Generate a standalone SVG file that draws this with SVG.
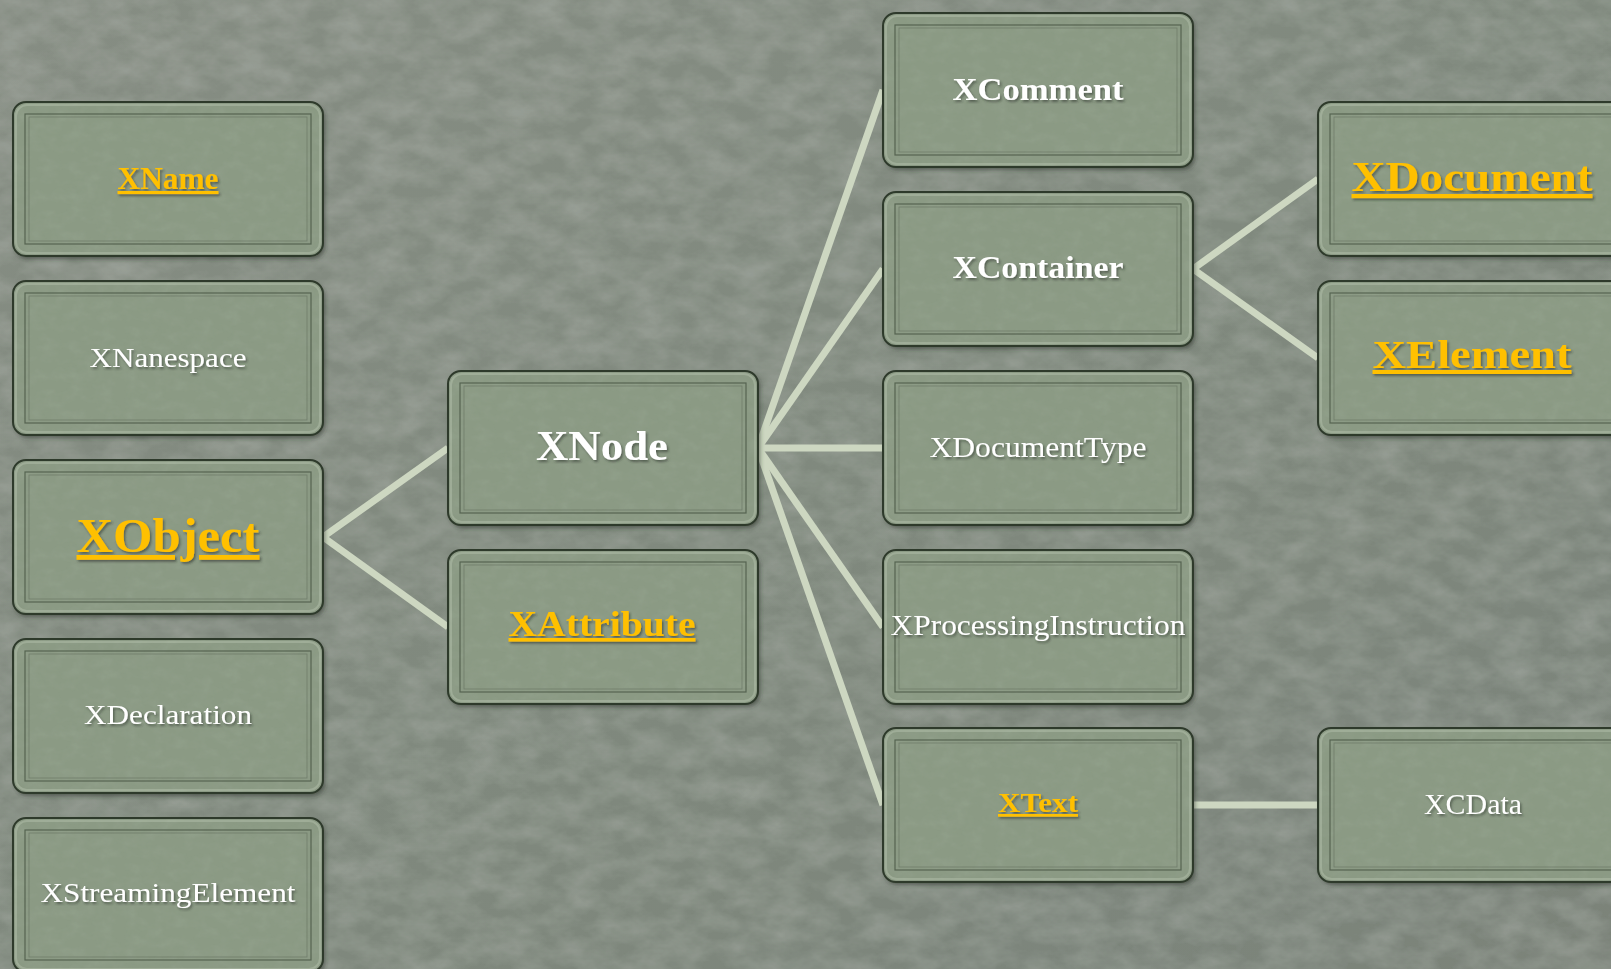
<svg xmlns="http://www.w3.org/2000/svg" xmlns:xlink="http://www.w3.org/1999/xlink" width="1611" height="969" viewBox="0 0 1611 969">
<style>
.t{font-family:"Liberation Serif","Times New Roman",serif;text-anchor:middle}
.w{fill:#ffffff}
.y{fill:#ffc000;text-decoration:underline}
.b{font-weight:bold}
.con line{stroke:#cdd7c1;stroke-width:7;stroke-linecap:butt}
</style>
<defs>
<linearGradient id="bg" x1="0" y1="0" x2="1" y2="1">
<stop offset="0" stop-color="#868d83"/>
<stop offset="0.5" stop-color="#80897e"/>
<stop offset="1" stop-color="#7b8379"/>
</linearGradient>
<filter id="bgtex" x="0" y="0" width="1" height="1">
<feTurbulence type="fractalNoise" baseFrequency="0.03 0.05" numOctaves="4" seed="7" result="n"/>
<feColorMatrix in="n" type="matrix" values="0 0 0 0 0.85  0 0 0 0 0.88  0 0 0 0 0.84  0.22 0 0 0 -0.06" result="d"/>
<feComposite in="d" in2="SourceGraphic" operator="in" result="dc"/>
<feMerge><feMergeNode in="SourceGraphic"/><feMergeNode in="dc"/></feMerge>
</filter>
<filter id="tex" x="0" y="0" width="1" height="1">
<feTurbulence type="fractalNoise" baseFrequency="0.07 0.1" numOctaves="3" seed="3" result="n"/>
<feColorMatrix in="n" type="matrix" values="0 0 0 0 0.32  0 0 0 0 0.4  0 0 0 0 0.3  0.7 0 0 0 -0.28" result="d"/>
<feComposite in="d" in2="SourceGraphic" operator="in" result="dc"/>
<feMerge><feMergeNode in="SourceGraphic"/><feMergeNode in="dc"/></feMerge>
</filter>
<filter id="sh" x="-5%" y="-5%" width="112%" height="120%">
<feGaussianBlur in="SourceAlpha" stdDeviation="2"/>
<feOffset dx="2" dy="3" result="b"/>
<feFlood flood-color="#2a3028" flood-opacity="0.55"/>
<feComposite in2="b" operator="in"/>
</filter>
<filter id="ts" x="-10%" y="-20%" width="120%" height="150%">
<feDropShadow dx="1.5" dy="2" stdDeviation="1" flood-color="#2b3228" flood-opacity="0.55"/>
</filter>
<g id="box">
<rect x="0" y="0" width="310" height="154" rx="13" fill="#000" filter="url(#sh)"/>
<rect x="0" y="0" width="310" height="154" rx="13" fill="#8b9a84" filter="url(#tex)"/>
<rect x="0" y="0" width="310" height="154" rx="13" fill="none" stroke="#2e3a2b" stroke-width="2"/>
<rect x="3" y="3" width="304" height="148" rx="11" fill="none" stroke="#c4cdbb" stroke-width="2" stroke-opacity="0.35"/>
<rect x="12" y="12" width="286" height="130" fill="none" stroke="#43503f" stroke-width="1.2" stroke-opacity="0.75"/>
<rect x="16" y="15" width="278" height="124" fill="none" stroke="#55624f" stroke-width="0.8" stroke-opacity="0.5"/>
</g>
</defs>
<rect width="1611" height="969" fill="url(#bg)" filter="url(#bgtex)"/>
<g id="connectors" class="con">
<line x1="323" y1="537" x2="448" y2="448"/>
<line x1="323" y1="537" x2="448" y2="627"/>
<line x1="758" y1="448" x2="883" y2="90"/>
<line x1="758" y1="448" x2="883" y2="269"/>
<line x1="758" y1="448" x2="883" y2="448"/>
<line x1="758" y1="448" x2="883" y2="627"/>
<line x1="758" y1="448" x2="883" y2="805"/>
<line x1="1193" y1="269" x2="1318" y2="179"/>
<line x1="1193" y1="269" x2="1318" y2="358"/>
<line x1="1193" y1="805" x2="1318" y2="805"/>
</g>
<g id="XName"><use xlink:href="#box" x="13" y="102"/><text class="t y b" x="168" y="189" font-size="31" textLength="101" lengthAdjust="spacingAndGlyphs" filter="url(#ts)">XName</text></g>
<g id="XNanespace"><use xlink:href="#box" x="13" y="281"/><text class="t w" x="168" y="367" font-size="28" textLength="157" lengthAdjust="spacingAndGlyphs" filter="url(#ts)">XNanespace</text></g>
<g id="XObject"><use xlink:href="#box" x="13" y="460"/><text class="t y b" x="168" y="552" font-size="48" textLength="183" lengthAdjust="spacingAndGlyphs" filter="url(#ts)">XObject</text></g>
<g id="XDeclaration"><use xlink:href="#box" x="13" y="639"/><text class="t w" x="168" y="724" font-size="28" textLength="168" lengthAdjust="spacingAndGlyphs" filter="url(#ts)">XDeclaration</text></g>
<g id="XStreamingElement"><use xlink:href="#box" x="13" y="818"/><text class="t w" x="168" y="902" font-size="27" textLength="255" lengthAdjust="spacingAndGlyphs" filter="url(#ts)">XStreamingElement</text></g>
<g id="XNode"><use xlink:href="#box" x="448" y="371"/><text class="t w b" x="602" y="460" font-size="42" textLength="132" lengthAdjust="spacingAndGlyphs" filter="url(#ts)">XNode</text></g>
<g id="XAttribute"><use xlink:href="#box" x="448" y="550"/><text class="t y b" x="602" y="636" font-size="36" textLength="187" lengthAdjust="spacingAndGlyphs" filter="url(#ts)">XAttribute</text></g>
<g id="XComment"><use xlink:href="#box" x="883" y="13"/><text class="t w b" x="1038" y="100" font-size="32" textLength="171" lengthAdjust="spacingAndGlyphs" filter="url(#ts)">XComment</text></g>
<g id="XContainer"><use xlink:href="#box" x="883" y="192"/><text class="t w b" x="1038" y="278" font-size="31" textLength="171" lengthAdjust="spacingAndGlyphs" filter="url(#ts)">XContainer</text></g>
<g id="XDocumentType"><use xlink:href="#box" x="883" y="371"/><text class="t w" x="1038" y="457" font-size="29" textLength="217" lengthAdjust="spacingAndGlyphs" filter="url(#ts)">XDocumentType</text></g>
<g id="XProcessingInstruction"><use xlink:href="#box" x="883" y="550"/><text class="t w" x="1038" y="635" font-size="30" textLength="295" lengthAdjust="spacingAndGlyphs" filter="url(#ts)">XProcessingInstruction</text></g>
<g id="XText"><use xlink:href="#box" x="883" y="728"/><text class="t y b" x="1038" y="812" font-size="27" textLength="80" lengthAdjust="spacingAndGlyphs" filter="url(#ts)">XText</text></g>
<g id="XDocument"><use xlink:href="#box" x="1318" y="102"/><text class="t y b" x="1472" y="191" font-size="42" textLength="241" lengthAdjust="spacingAndGlyphs" filter="url(#ts)">XDocument</text></g>
<g id="XElement"><use xlink:href="#box" x="1318" y="281"/><text class="t y b" x="1472" y="368" font-size="40" textLength="199" lengthAdjust="spacingAndGlyphs" filter="url(#ts)">XElement</text></g>
<g id="XCData"><use xlink:href="#box" x="1318" y="728"/><text class="t w" x="1473" y="814" font-size="29" textLength="98" lengthAdjust="spacingAndGlyphs" filter="url(#ts)">XCData</text></g>
</svg>
